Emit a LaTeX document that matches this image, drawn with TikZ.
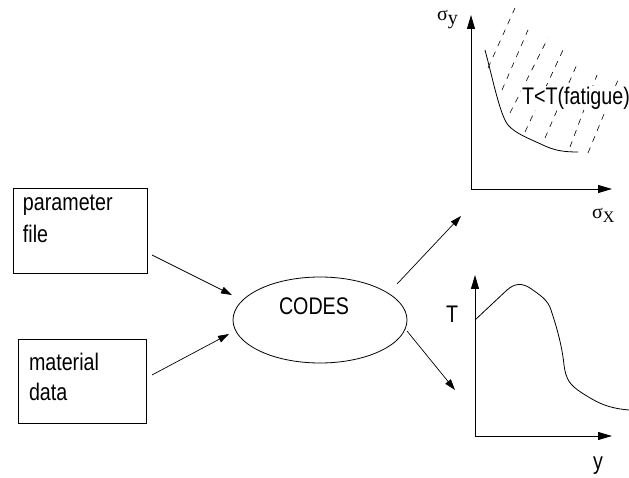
\documentclass[tikz,border=0pt]{standalone}
\usepackage{fontspec}
\setmainfont{Liberation Sans}[FakeStretch=0.82]
\newfontfamily\greekfont{Liberation Serif}
\usetikzlibrary{arrows.meta,shapes.geometric}
\begin{document}
\begin{tikzpicture}[x=1pt,y=-1pt,
  every node/.style={inner sep=0pt,outer sep=0pt,font=\fontsize{24}{28}\selectfont},
  box/.style={draw,line width=0.8pt},
  flow/.style={-{Triangle[length=11pt,width=7pt]},line width=0.7pt},
  axis/.style={-{Triangle[length=14pt,width=8pt]},line width=0.9pt},
  curve/.style={line width=0.8pt},
  hatch/.style={line width=0.6pt,dash pattern=on 6pt off 6pt},
  lbl/.style={anchor=base west},
  sub/.style={font=\greekfont\fontsize{20}{20}\selectfont}]
\useasboundingbox (0,0) rectangle (629,478);

% input boxes
\node[box,minimum width=134pt,minimum height=85pt] (param) at (80,230.5) {};
\node[box,minimum width=128pt,minimum height=84pt] (mat) at (82,381) {};
\node[lbl] (paramA) at (23,211) {parameter};
\node[lbl] (paramB) at (23,243) {file};
\node[lbl] (matA) at (29,370) {material};
\node[lbl] (matB) at (29,400) {data};

% central process
\node[draw,ellipse,line width=0.8pt,minimum width=174pt,minimum height=86pt] (codes) at (320,320) {};
\node[lbl] (codestxt) at (279,315) {CODES};

% connectors
\coordinate (in1) at (152,255);
\coordinate (in2) at (152,375);
\coordinate (out1) at (397,284);
\coordinate (out2) at (407,331);
\coordinate (tip1) at (232,295);
\coordinate (tip2) at (229,334);
\coordinate (tip3) at (461,216);
\coordinate (tip4) at (455,390);
\draw[flow] (in1) -- (tip1);
\draw[flow] (in2) -- (tip2);
\draw[flow] (out1) -- (tip3);
\draw[flow] (out2) -- (tip4);

% stress plot
\coordinate (o1) at (471,189);
\coordinate (y1) at (471,15);
\coordinate (x1) at (612,189);
\draw[axis] (o1) -- (y1);
\draw[axis] (o1) -- (x1);
\node[lbl,sub] (sy) at (437,21) {σ\raisebox{-4pt}{y}};
\node[lbl,sub] (sx) at (592,219) {σ\raisebox{-4pt}{\fontsize{16}{16}\selectfont X}};
\draw[curve] (485,50) .. controls (493,80) and (500,115) .. (508,125)
  .. controls (516,134) and (528,138) .. (545,146)
  .. controls (556,151) and (566,152) .. (578,152);
% hatching of the fatigue region
\foreach \a/\b/\c/\d in {488/68/515/8, 502/90/528/30, 510/113/548/38,
  525/132/563/50, 545/138/578/62, 570/147/597/75, 588/153/618/80}{
  \draw[hatch] (\a,\b) -- (\c,\d);
}
\node[anchor=center,fill=white,inner sep=1pt] (fat) at (576,98) {T<T(fatigue)};

% temperature plot
\coordinate (o2) at (475,436);
\coordinate (y2) at (475,275);
\coordinate (x2) at (612,436);
\draw[axis] (o2) -- (y2);
\draw[axis] (o2) -- (x2);
\node[lbl] (tl) at (446,323) {T};
\node[lbl] (yl) at (593,469) {y};
\draw[curve] (475,320) -- (507,290)
  .. controls (515,283) and (522,283) .. (530,288)
  .. controls (540,295) and (548,300) .. (551,310)
  .. controls (556,325) and (562,345) .. (564,365)
  .. controls (566,380) and (570,385) .. (582,393)
  .. controls (595,401) and (605,408) .. (629,410);
\end{tikzpicture}
\end{document}
